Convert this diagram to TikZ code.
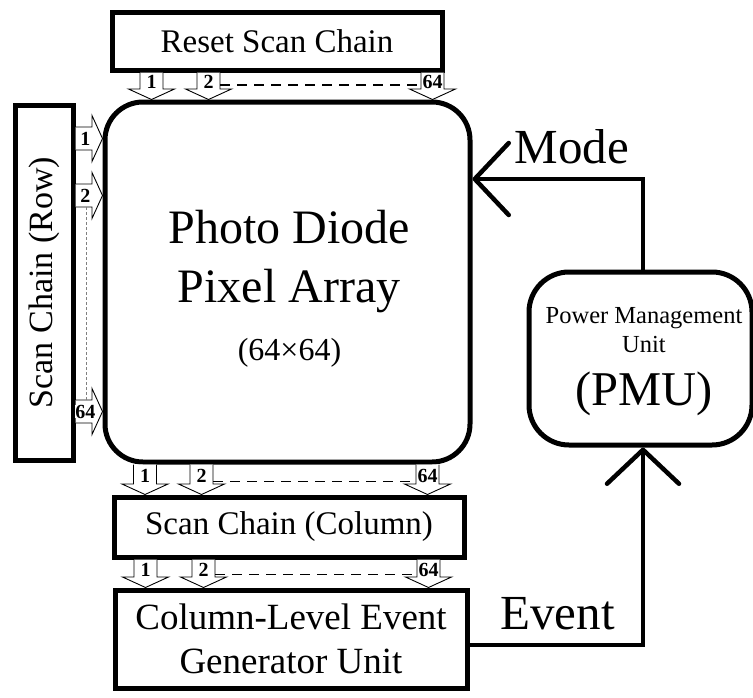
\documentclass[tikz,border=0pt]{standalone}
\usepackage{fontspec}
\setmainfont{Liberation Serif}
\usetikzlibrary{arrows.meta,calc}

% Hollow block arrow: #1 start, #2 angle, #3 length, #4 label, #5 name, #6 dash offset
\newcommand\sigarrow[6]{%
  \begin{scope}[shift={#1},rotate=#2]
    \fill[white] (0,-11.5) -- ({#3-10.5},-11.5) -- ({#3-10.5},-23) -- (#3,0)
      -- ({#3-10.5},23) -- ({#3-10.5},11.5) -- (0,11.5) -- cycle;
    \draw[arrowline] (0,-11.5) -- ({#3-10.5},-11.5) -- ({#3-10.5},-23) -- (#3,0)
      -- ({#3-10.5},23) -- ({#3-10.5},11.5) -- (0,11.5);
    \coordinate (#5-p) at (#6,-11.5);
    \coordinate (#5-m) at (#6,11.5);
    \node[arrowlabel] (#5) at ({(#3-10.5)/2+1.5},0) {#4};
  \end{scope}}

\tikzset{
  box/.style={draw, line width=5pt, fill=white, inner sep=0pt},
  rbox/.style={box, rounded corners=38pt},
  conn/.style={line width=4.5pt, -{Straight Barb[length=34pt,width=72pt,round]}},
  arrowline/.style={line width=0.9pt, line join=miter},
  arrowlabel/.style={font=\fontsize{20}{20}\selectfont\bfseries, fill=white, inner sep=0.2pt},
  dashblack/.style={line width=1.1pt, dash pattern=on 10pt off 7pt},
  dashgrey/.style={line width=0.9pt, gray, dash pattern=on 3pt off 2pt},
}

\begin{document}
\begin{tikzpicture}[x=1pt,y=-1pt]
\useasboundingbox (0,0) rectangle (753,697);

% blocks
\node[box, minimum width=330, minimum height=58, font=\fontsize{33}{40}\selectfont]
  (reset) at (277,41) {Reset Scan Chain};
\node[rbox, minimum width=365, minimum height=360] (pix) at (287.5,282) {};
\node[box, minimum width=58, minimum height=355, font=\fontsize{34}{40}\selectfont]
  (row) at (44,282.5) {\rotatebox{90}{Scan Chain (Row)}};
\node[box, minimum width=350, minimum height=60, font=\fontsize{33}{40}\selectfont]
  (col) at (289,527) {Scan Chain (Column)};
\node[box, minimum width=352, minimum height=98, align=center, font=\fontsize{37}{44}\selectfont]
  (evt) at (291,639) {Column-Level Event\\Generator Unit};
\node[box, rounded corners=40pt, minimum width=223, minimum height=173] (pmu) at (640.5,358.5) {};

% block texts
\node[anchor=base, font=\fontsize{48}{48}\selectfont] (pixa) at (289,243) {Photo Diode};
\node[anchor=base, font=\fontsize{48}{48}\selectfont] (pixb) at (289,302) {Pixel Array};
\node[anchor=base, font=\fontsize{32}{32}\selectfont] (pixc) at (289.5,360) {(64×64)};
\node[anchor=base, font=\fontsize{24.5}{24.5}\selectfont] (pmua) at (644,323) {Power Management};
\node[anchor=base, font=\fontsize{24.5}{24.5}\selectfont] (pmub) at (644,352) {Unit};
\node[anchor=base, font=\fontsize{48.5}{48.5}\selectfont] (pmuc) at (644,405) {(PMU)};

% reset chain -> pixel array
\sigarrow{($(reset.south west)+(42,0)$)}{-90}{27}{1}{ta1}{12.5}
\sigarrow{($(reset.south west)+(99,0)$)}{-90}{27}{2}{ta2}{12.5}
\sigarrow{($(reset.south west)+(323,0)$)}{-90}{27}{64}{ta64}{12.5}
\draw[dashblack] (ta2-p) -- (ta64-m);

% row chain -> pixel array
\sigarrow{($(row.north east)+(0,36)$)}{0}{27}{1}{ra1}{10.5}
\sigarrow{($(row.north east)+(0,93)$)}{0}{27}{2}{ra2}{10.5}
\sigarrow{($(row.north east)+(0,309)$)}{0}{27}{64}{ra64}{10.5}
\draw[dashgrey] (ra2-m) -- (ra64-p);

% pixel array -> column chain
\sigarrow{($(pix.south west)+(42.5,0)$)}{-90}{30}{1}{ba1}{17}
\sigarrow{($(pix.south west)+(99,0)$)}{-90}{30}{2}{ba2}{17}
\sigarrow{($(pix.south west)+(325,0)$)}{-90}{30}{64}{ba64}{17}
\draw[dashblack] (ba2-p) -- (ba64-m);

% column chain -> event generator
\sigarrow{($(col.south west)+(34,0)$)}{-90}{28}{1}{ca1}{15}
\sigarrow{($(col.south west)+(92,0)$)}{-90}{28}{2}{ca2}{15}
\sigarrow{($(col.south west)+(317,0)$)}{-90}{28}{64}{ca64}{15}
\draw[dashblack] (ca2-p) -- (ca64-m);

% control loop
\coordinate (tap) at (643,0);
\coordinate (modein) at (472.5,179);
\draw[conn] (pmu.north -| tap) |- (modein);
\draw[conn] ([yshift=-6pt]evt.east) -| (pmu.south -| tap);
\node[anchor=base west, font=\fontsize{49}{49}\selectfont] (mode) at (511,163) {Mode};
\node[anchor=base west, font=\fontsize{49}{49}\selectfont] (event) at (497,629) {Event};
\end{tikzpicture}
\end{document}
